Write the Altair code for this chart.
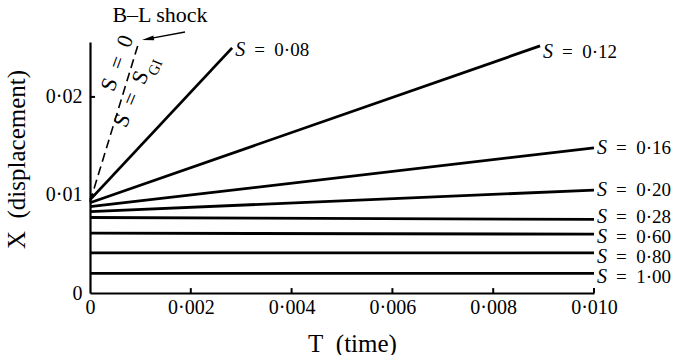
import altair as alt
import pandas as pd

# ---- data ----
S_labels = ["0·08", "0·12", "0·16", "0·20", "0·28", "0·60", "0·80", "1·00"]
T_start = [0, 0, 0, 0, 0, 0, 0, 0]
X_start = [0.0095, 0.0092, 0.0088, 0.0083, 0.0077, 0.0061, 0.0041, 0.0020]
T_end = [0.00282, 0.00893, 0.0100, 0.0100, 0.0100, 0.0100, 0.0100, 0.0100]
X_end = [0.0250, 0.0252, 0.0148, 0.0105, 0.0075, 0.0060, 0.0041, 0.0020]
# vertical place of each right-hand label (as printed, slightly spread apart)
X_label = [0.0248, 0.0246, 0.0148, 0.0105, 0.00775, 0.00571, 0.00367, 0.00163]

shock_T = [0.0, 0.00097]
shock_X = [0.0093, 0.0256]

x_tick_values = [0.002, 0.004, 0.006, 0.008, 0.010]
y_tick_values = [0.01, 0.02]
x_label_values = [0, 0.002, 0.004, 0.006, 0.008, 0.010]
y_label_values = [0, 0.01, 0.02]

FONT = "Liberation Serif, Times New Roman, DejaVu Serif, serif"
EN = "\u2002"

# ---- tables ----
rows = []
for s, t0, x0, t1, x1 in zip(S_labels, T_start, X_start, T_end, X_end):
    rows.append({"S": s, "T": t0, "X": x0})
    rows.append({"S": s, "T": t1, "X": x1})
lines_df = pd.DataFrame(rows)
labels_df = pd.DataFrame({"S": S_labels, "T": T_end, "X": X_label,
                          "rest": ["=" + EN + s for s in S_labels]})
shock_df = pd.DataFrame({"T": shock_T, "X": shock_X})
xt_df = pd.DataFrame({"T": x_tick_values, "X": [0.0] * 5, "X2": [0.0005] * 5})
yt_df = pd.DataFrame({"X": y_tick_values, "T": [0.0] * 2, "T2": [0.0001] * 2})

xscale = alt.Scale(domain=[0, 0.010], nice=False, zero=False)
yscale = alt.Scale(domain=[0, 0.0256], nice=False, zero=False)

x_axis = alt.Axis(
    values=x_label_values,
    labelExpr="datum.value == 0 ? '0' : replace(format(datum.value, '.3f'), '.', '·')",
    ticks=False, grid=False, domainColor="black", domainWidth=2.2,
    labelFont=FONT, labelFontSize=20, labelColor="black", labelPadding=4,
    labelFlush=False, labelOverlap=False,
    title="T" + EN + "(time)", titleFont=FONT, titleFontSize=25, titleFontWeight="normal",
    titleColor="black", titleX=262, titleY=58, titleBaseline="alphabetic",
    titleAlign="center",
)
y_axis = alt.Axis(
    values=y_label_values,
    labelExpr="datum.value == 0 ? '0' : replace(format(datum.value, '.2f'), '.', '·')",
    ticks=False, grid=False, domainColor="black", domainWidth=2.2,
    labelFont=FONT, labelFontSize=20, labelColor="black", labelPadding=8,
    labelFlush=False, labelOverlap=False,
    title="X" + EN + "(displacement)", titleFont=FONT, titleFontSize=25,
    titleFontWeight="normal", titleColor="black", titleX=-74, titleY=117,
    titleAngle=270, titleBaseline="middle", titleAlign="center",
)

X = alt.X("T:Q", scale=xscale, axis=x_axis)
Y = alt.Y("X:Q", scale=yscale, axis=y_axis)

lines = alt.Chart(lines_df).mark_line(color="black", strokeWidth=2.8).encode(
    x=X, y=Y, detail="S:N")

shock = alt.Chart(shock_df).mark_line(
    color="black", strokeWidth=1.6, strokeDash=[9, 5]).encode(x=X, y=Y)

xticks = alt.Chart(xt_df).mark_rule(color="black", strokeWidth=2).encode(
    x=X, y=Y, y2="X2:Q")
yticks = alt.Chart(yt_df).mark_rule(color="black", strokeWidth=2).encode(
    x=X, x2="T2:Q", y=Y)

lab_S = alt.Chart(labels_df).mark_text(
    align="left", baseline="middle", dx=3, font=FONT, fontSize=20,
    fontStyle="italic", color="black").encode(x=X, y=Y, text=alt.value("S"))
lab_rest = alt.Chart(labels_df).mark_text(
    align="left", baseline="middle", dx=22, font=FONT, fontSize=19,
    color="black").encode(x=X, y=Y, text="rest:N")

# annotations near the shock line
def txt(text, t, x, size, angle=0, style="normal"):
    df = pd.DataFrame({"T": [t], "X": [x], "txt": [text]})
    return alt.Chart(df).mark_text(
        align="center", baseline="middle", font=FONT, fontSize=size,
        angle=angle, fontStyle=style, color="black").encode(x=X, y=Y, text="txt:N")

ann = [
    txt("S" + EN + "=" + EN + "0", 0.000536, 0.02346, 22, angle=290),
    txt("S" + EN + "=" + EN + "S", 0.000813, 0.01979, 22, angle=293),
    txt("GI", 0.00129, 0.02300, 15, angle=293),
    txt("B–L shock", 0.001389, 0.02835, 22),
]

arrow_df = pd.DataFrame({"T": [0.001885, 0.001149], "X": [0.02662, 0.02592]})
arrow_line = alt.Chart(arrow_df).mark_line(color="black", strokeWidth=1.3).encode(x=X, y=Y)
head_df = pd.DataFrame({"T": [0.001149], "X": [0.02592]})
arrow_head = alt.Chart(head_df).mark_point(
    shape="M -1 -0.4 L 1 0 L -1 0.4 Z", filled=True, size=144, angle=169.5,
    color="black", opacity=1).encode(x=X, y=Y)

chart = alt.layer(
    lines, shock, xticks, yticks, lab_S, lab_rest, *ann, arrow_line, arrow_head
).properties(
    width=504, height=251,
    autosize=alt.AutoSizeParams(type="none"),
    padding={"left": 90, "top": 42, "right": 86, "bottom": 62},
    background="white",
).configure_view(stroke=None)

chart.save("out.html", embed_options={"renderer": "svg", "actions": False})
